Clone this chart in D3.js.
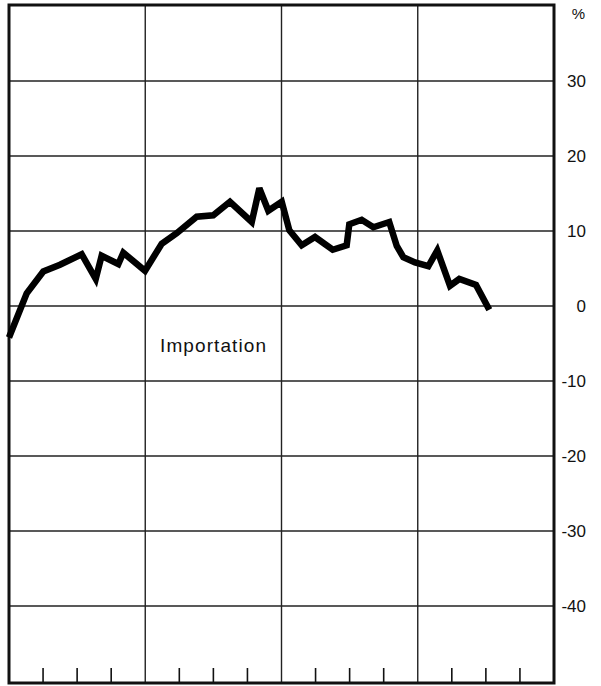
<!DOCTYPE html>
<html>
<head>
<meta charset="utf-8">
<script src="https://cdn.jsdelivr.net/npm/d3@7/dist/d3.min.js"></script>
<style>
  html, body { margin: 0; padding: 0; background: #fff; }
  svg { display: block; }
  text { font-family: "Liberation Sans", Arial, sans-serif; fill: #111; }
</style>
</head>
<body>
<svg id="chart" width="601" height="686"></svg>
<script>
// Time position of each observation, in months from the left edge (4 years of 12 months)
const months = [0, 1.56, 3.02, 4.49, 6.4, 7.64, 8.16, 9.63, 10.07, 11.98, 13.45, 14.77,
  16.53, 17.99, 19.46, 21.38, 22.05, 22.84, 24.02, 24.69, 25.78, 26.95, 28.51, 29.74,
  29.97, 31.06, 32.09, 33.49, 34.15, 34.73, 35.76, 36.93, 37.72, 38.84, 39.66, 41.13, 42.3];
// Year-on-year change of imports, %
const importation = [-4.2, 1.7, 4.6, 5.5, 6.9, 3.6, 6.7, 5.6, 7.1, 4.7, 8.3, 9.7,
  11.9, 12.1, 13.9, 11.2, 15.7, 12.7, 13.9, 10.1, 8.1, 9.2, 7.5, 8.1,
  10.9, 11.5, 10.5, 11.2, 8.0, 6.5, 5.8, 5.3, 7.4, 2.7, 3.6, 2.8, -0.5];
const yTicks = [30, 20, 10, 0, -10, -20, -30, -40];
const yearBreaks = [12, 24, 36];
const quarterTicks = d3.range(3, 48, 3).filter(m => m % 12 !== 0);
const seriesLabel = "Importation";
const unitLabel = "%";

const svg = d3.select("#chart");
const frame = { left: 9, right: 554, top: 5, bottom: 683 };

const x = d3.scaleLinear().domain([0, 48]).range([frame.left, frame.right]);
const y = d3.scaleLinear().domain([-40, 30]).range([606, 81]);

// Horizontal grid lines at every 10 %
svg.append("g").selectAll("line").data(yTicks).join("line")
  .attr("x1", frame.left).attr("x2", frame.right)
  .attr("y1", d => y(d)).attr("y2", d => y(d))
  .attr("stroke", "#222").attr("stroke-width", 1.4);

// Vertical year separators
svg.append("g").selectAll("line").data(yearBreaks).join("line")
  .attr("x1", d => x(d)).attr("x2", d => x(d))
  .attr("y1", frame.top).attr("y2", frame.bottom)
  .attr("stroke", "#222").attr("stroke-width", 1.4);

// Quarter ticks along the bottom edge
svg.append("g").selectAll("line").data(quarterTicks).join("line")
  .attr("x1", d => x(d)).attr("x2", d => x(d))
  .attr("y1", frame.bottom - 15).attr("y2", frame.bottom)
  .attr("stroke", "#111").attr("stroke-width", 1.6);

// Frame
svg.append("rect")
  .attr("x", frame.left).attr("y", frame.top)
  .attr("width", frame.right - frame.left).attr("height", frame.bottom - frame.top)
  .attr("fill", "none").attr("stroke", "#111").attr("stroke-width", 3);

// Right-hand value axis labels
const axis = d3.axisRight(y).tickValues(yTicks).tickSize(0).tickPadding(0)
  .tickFormat(d => String(d));
const gAxis = svg.append("g").attr("transform", `translate(${frame.right},0)`).call(axis);
gAxis.select(".domain").remove();
gAxis.selectAll("text")
  .attr("x", 586 - frame.right).attr("text-anchor", "end")
  .attr("font-size", 17).attr("font-family", "Liberation Sans, Arial, sans-serif")
  .attr("fill", "#111");

svg.append("text")
  .attr("x", 585).attr("y", 19).attr("text-anchor", "end")
  .attr("font-size", 15).text(unitLabel);

// Series line
const pts = months.map((m, i) => [m, importation[i]]);
const line = d3.line().x(d => x(d[0])).y(d => y(d[1]));
svg.append("path").datum(pts)
  .attr("d", line)
  .attr("fill", "none").attr("stroke", "#000")
  .attr("stroke-width", 6.5)
  .attr("stroke-linejoin", "miter").attr("stroke-miterlimit", 3);

svg.append("text")
  .attr("x", 160).attr("y", 352)
  .attr("font-size", 19).attr("letter-spacing", 1.1)
  .text(seriesLabel);
</script>
</body>
</html>
